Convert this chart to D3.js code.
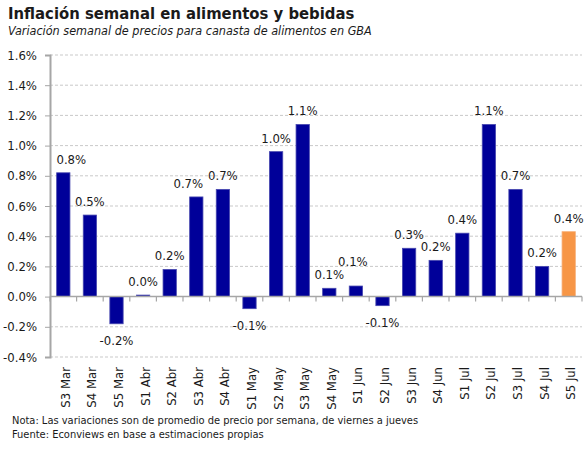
<!DOCTYPE html>
<html>
<head>
<meta charset="utf-8">
<script src="https://cdn.jsdelivr.net/npm/d3@7"></script>
<style>
  body { margin: 0; background: #fff; }
  text { font-family: "DejaVu Sans Condensed", "DejaVu Sans", sans-serif; fill: #1a1a1a; }
</style>
</head>
<body>
<div id="chart"></div>
<script>
// Data
const weeks = ["S3 Mar", "S4 Mar", "S5 Mar", "S1 Abr", "S2 Abr", "S3 Abr", "S4 Abr",
  "S1 May", "S2 May", "S3 May", "S4 May", "S1 Jun", "S2 Jun", "S3 Jun", "S4 Jun",
  "S1 Jul", "S2 Jul", "S3 Jul", "S4 Jul", "S5 Jul"];
const values = [0.82, 0.54, -0.18, 0.01, 0.18, 0.66, 0.71, -0.08, 0.96, 1.14,
  0.055, 0.07, -0.06, 0.32, 0.24, 0.42, 1.14, 0.71, 0.20, 0.43];
const estimated = ["S5 Jul"];
const yTicks = [-0.4, -0.2, 0, 0.2, 0.4, 0.6, 0.8, 1.0, 1.2, 1.4, 1.6];

const titleText = "Inflación semanal en alimentos y bebidas";
const subtitleText = "Variación semanal de precios para canasta de alimentos en GBA";
const notes = [
  "Nota: Las variaciones son de promedio de precio por semana, de viernes a jueves",
  "Fuente: Econviews en base a estimaciones propias"
];

const data = weeks.map((w, i) => ({ week: w, value: values[i] }));

// label nudges (moved by hand in the original)
const labelNudge = { "S3 Mar": [8, 0], "S3 Abr": [-8, 0], "S1 Jun": [-3, -11] };

// Layout
const W = 586, H = 451;
const margin = { top: 55, right: 4, bottom: 94, left: 50 },
  width = W - margin.left - margin.right,
  height = H - margin.top - margin.bottom;

const svg = d3.select("#chart").append("svg")
  .attr("width", W)
  .attr("height", H);

svg.append("text")
  .attr("x", 8).attr("y", 19)
  .attr("font-size", "16.5px")
  .attr("font-weight", "bold")
  .text(titleText);

svg.append("text")
  .attr("x", 8).attr("y", 35)
  .attr("font-size", "12.5px")
  .attr("font-style", "italic")
  .text(subtitleText);

const g = svg.append("g")
  .attr("transform", `translate(${margin.left},${margin.top})`);

const x = d3.scaleBand()
  .domain(weeks)
  .range([0, width])
  .paddingInner(0.5)
  .paddingOuter(0.25);

const y = d3.scaleLinear()
  .domain([-0.4, 1.6])
  .range([height, 0]);

const fmt = d => d.toFixed(1) + "%";

// gridlines
g.selectAll(".grid")
  .data(yTicks.filter(t => t !== 0))
  .enter().append("line")
  .attr("x1", 0).attr("x2", width)
  .attr("y1", d => y(d)).attr("y2", d => y(d))
  .attr("stroke", "#c9c9c9")
  .attr("stroke-width", 1)
  .attr("stroke-dasharray", "3,2");

// y axis
const yAxis = g.append("g")
  .call(d3.axisLeft(y).tickValues(yTicks).tickFormat(fmt).tickSize(5).tickPadding(8));
yAxis.select(".domain").attr("stroke", "#a6a6a6").attr("stroke-width", 2);
yAxis.selectAll(".tick line").attr("stroke", "#a6a6a6");
yAxis.selectAll(".tick text")
  .attr("font-size", "13px")
  .attr("fill", "#1a1a1a")
  .style("font-family", "DejaVu Sans Condensed, DejaVu Sans, sans-serif");

// bars
g.selectAll(".bar")
  .data(data)
  .enter().append("rect")
  .attr("class", "bar")
  .attr("x", d => x(d.week))
  .attr("width", x.bandwidth())
  .attr("y", d => y(Math.max(0, d.value)))
  .attr("height", d => Math.abs(y(d.value) - y(0)))
  .attr("fill", d => estimated.includes(d.week) ? "#F79646" : "#000099")
  .attr("stroke", d => estimated.includes(d.week) ? "#f7b07a" : "#4848b0")
  .attr("stroke-width", 0.8);

// zero axis with band ticks
g.append("line")
  .attr("x1", 0).attr("x2", width)
  .attr("y1", y(0)).attr("y2", y(0))
  .attr("stroke", "#a6a6a6")
  .attr("stroke-width", 1.5);

const step = x.step();
g.selectAll(".xtick")
  .data(d3.range(weeks.length + 1))
  .enter().append("line")
  .attr("x1", i => i * step).attr("x2", i => i * step)
  .attr("y1", y(0)).attr("y2", y(0) + 5)
  .attr("stroke", "#a6a6a6")
  .attr("stroke-width", 1.2);

// value labels
g.selectAll(".lbl")
  .data(data)
  .enter().append("text")
  .attr("x", d => x(d.week) + x.bandwidth() / 2 + (labelNudge[d.week] ? labelNudge[d.week][0] : 0))
  .attr("y", d => (d.value >= 0 ? y(d.value) - 9 : y(d.value) + 21) + (labelNudge[d.week] ? labelNudge[d.week][1] : 0))
  .attr("text-anchor", "middle")
  .attr("font-size", "13px")
  .text(d => fmt(d.value));

// x labels
g.selectAll(".xlbl")
  .data(weeks)
  .enter().append("text")
  .attr("transform", d => `translate(${x(d) + x.bandwidth() / 2 + 2},${height + 10}) rotate(-90)`)
  .attr("text-anchor", "end")
  .attr("dy", "0.35em")
  .attr("font-size", "13px")
  .text(d => d);

// notes
svg.selectAll(".note")
  .data(notes)
  .enter().append("text")
  .attr("x", 12)
  .attr("y", (d, i) => 424 + i * 14)
  .attr("font-size", "11px")
  .text(d => d);
</script>
</body>
</html>
